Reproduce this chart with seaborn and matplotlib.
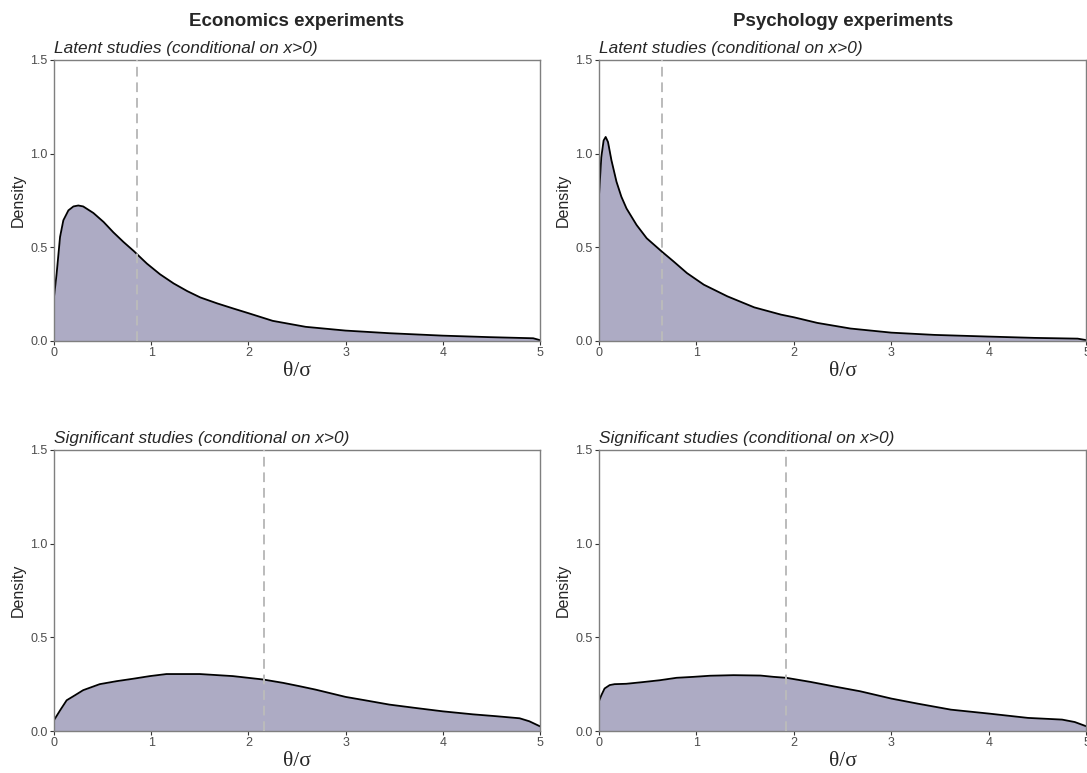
import numpy as np
import pandas as pd
import matplotlib
matplotlib.use("Agg")
import matplotlib.pyplot as plt
import seaborn as sns

# Curvas (theta/sigma, densidade)
econ_lat_x = [0.0, 0.027, 0.062, 0.096, 0.148, 0.2, 0.25, 0.3, 0.405, 0.51, 0.61, 0.715, 0.82, 0.86,
              0.955, 1.09, 1.23, 1.37, 1.505, 1.68, 1.85, 2.0, 2.25, 2.59, 3.0, 3.45, 4.0, 4.48,
              4.93, 5.0]
econ_lat_y = [0.236, 0.36, 0.555, 0.644, 0.697, 0.718, 0.723, 0.718, 0.683, 0.635, 0.58, 0.528, 0.48,
              0.46, 0.413, 0.356, 0.307, 0.266, 0.232, 0.2, 0.172, 0.148, 0.107, 0.075, 0.055, 0.041,
              0.028, 0.02, 0.014, 0.004]

psy_lat_x = [0.0, 0.024, 0.048, 0.069, 0.093, 0.128, 0.18, 0.23, 0.283, 0.386, 0.49, 0.645, 0.766,
             0.903, 1.076, 1.317, 1.593, 1.869, 2.0, 2.24, 2.58, 3.0, 3.44, 4.0, 4.47, 4.91, 5.0]
psy_lat_y = [0.77, 0.98, 1.07, 1.089, 1.062, 0.965, 0.85, 0.77, 0.707, 0.619, 0.548, 0.477, 0.424,
             0.362, 0.30, 0.238, 0.179, 0.14, 0.126, 0.096, 0.066, 0.044, 0.032, 0.023, 0.016,
             0.012, 0.004]

econ_sig_x = [0.0, 0.062, 0.13, 0.216, 0.30, 0.47, 0.644, 0.815, 0.986, 1.157, 1.5, 1.84, 2.15,
              2.356, 2.527, 2.69, 3.0, 3.2, 3.45, 3.72, 4.0, 4.31, 4.55, 4.79, 4.89, 5.0]
econ_sig_y = [0.058, 0.11, 0.164, 0.191, 0.218, 0.25, 0.266, 0.279, 0.293, 0.304, 0.304, 0.293,
              0.275, 0.257, 0.239, 0.221, 0.182, 0.164, 0.141, 0.123, 0.105, 0.089, 0.079, 0.068,
              0.052, 0.025]

psy_sig_x = [0.0, 0.024, 0.058, 0.11, 0.16, 0.28, 0.45, 0.625, 0.797, 0.97, 1.14, 1.38, 1.656, 1.79,
             1.92, 2.17, 2.41, 2.68, 3.0, 3.27, 3.61, 4.0, 4.4, 4.75, 4.88, 5.0]
psy_sig_y = [0.159, 0.19, 0.227, 0.245, 0.25, 0.252, 0.261, 0.271, 0.284, 0.289, 0.295, 0.298, 0.296,
             0.289, 0.284, 0.262, 0.238, 0.212, 0.173, 0.146, 0.114, 0.093, 0.07, 0.061, 0.048, 0.025]

# medianas (linhas tracejadas)
econ_lat_med = 0.856
psy_lat_med = 0.645
econ_sig_med = 2.165
psy_sig_med = 1.92

col_titles = ["Economics experiments", "Psychology experiments"]
row_titles = ["Latent studies (conditional on x>0)", "Significant studies (conditional on x>0)"]
x_ticks = [0, 1, 2, 3, 4, 5]
y_ticks = [0.0, 0.5, 1.0, 1.5]

sns.set_style("white")
plt.rcParams["font.family"] = ["Liberation Sans", "DejaVu Sans"]

fig = plt.figure(figsize=(10.87, 7.73), dpi=100)

paineis = [
    (econ_lat_x, econ_lat_y, econ_lat_med, [0.0497, 0.559, 0.4471, 0.3634]),
    (psy_lat_x, psy_lat_y, psy_lat_med, [0.551, 0.559, 0.4485, 0.3634]),
    (econ_sig_x, econ_sig_y, econ_sig_med, [0.0497, 0.0543, 0.4471, 0.3637]),
    (psy_sig_x, psy_sig_y, psy_sig_med, [0.551, 0.0543, 0.4485, 0.3637]),
]

fill_col = "#ADABC4"

for i, (xs, ys, med, pos) in enumerate(paineis):
    ax = fig.add_axes(pos)
    df = pd.DataFrame({"x": xs, "y": ys})
    ax.fill_between(df["x"], 0, df["y"], color=fill_col, linewidth=0)
    sns.lineplot(data=df, x="x", y="y", ax=ax, color="black", linewidth=1.3)
    ax.axvline(med, color="#BBBBBB", linestyle=(0, (5, 3)), linewidth=1.4, zorder=3)
    ax.set_xlim(0, 5)
    ax.set_ylim(0, 1.5)
    ax.set_xticks(x_ticks)
    ax.set_yticks(y_ticks)
    ax.set_yticklabels([f"{v:.1f}" for v in y_ticks])
    ax.set_xlabel(r"θ/σ", family=["Liberation Serif", "DejaVu Serif"], fontsize=15.5, labelpad=2)
    ax.set_ylabel("Density", fontsize=11.5, labelpad=3)
    ax.tick_params(axis="both", labelsize=9, labelcolor="#4D4D4D", color="#333333",
                   length=3, width=0.8, direction="out", pad=1.5, bottom=True, left=True)
    for s in ax.spines.values():
        s.set_color("#7F7F7F")
        s.set_linewidth(1.0)
    ax.text(0.0, 1.015, row_titles[i // 2], transform=ax.transAxes, ha="left", va="bottom",
            fontsize=12.4, style="italic")
    if i < 2:
        ax.text(0.5, 1.105, col_titles[i], transform=ax.transAxes, ha="center", va="bottom",
                fontsize=13.5, fontweight="bold")

fig.savefig("out.png", dpi=100)
